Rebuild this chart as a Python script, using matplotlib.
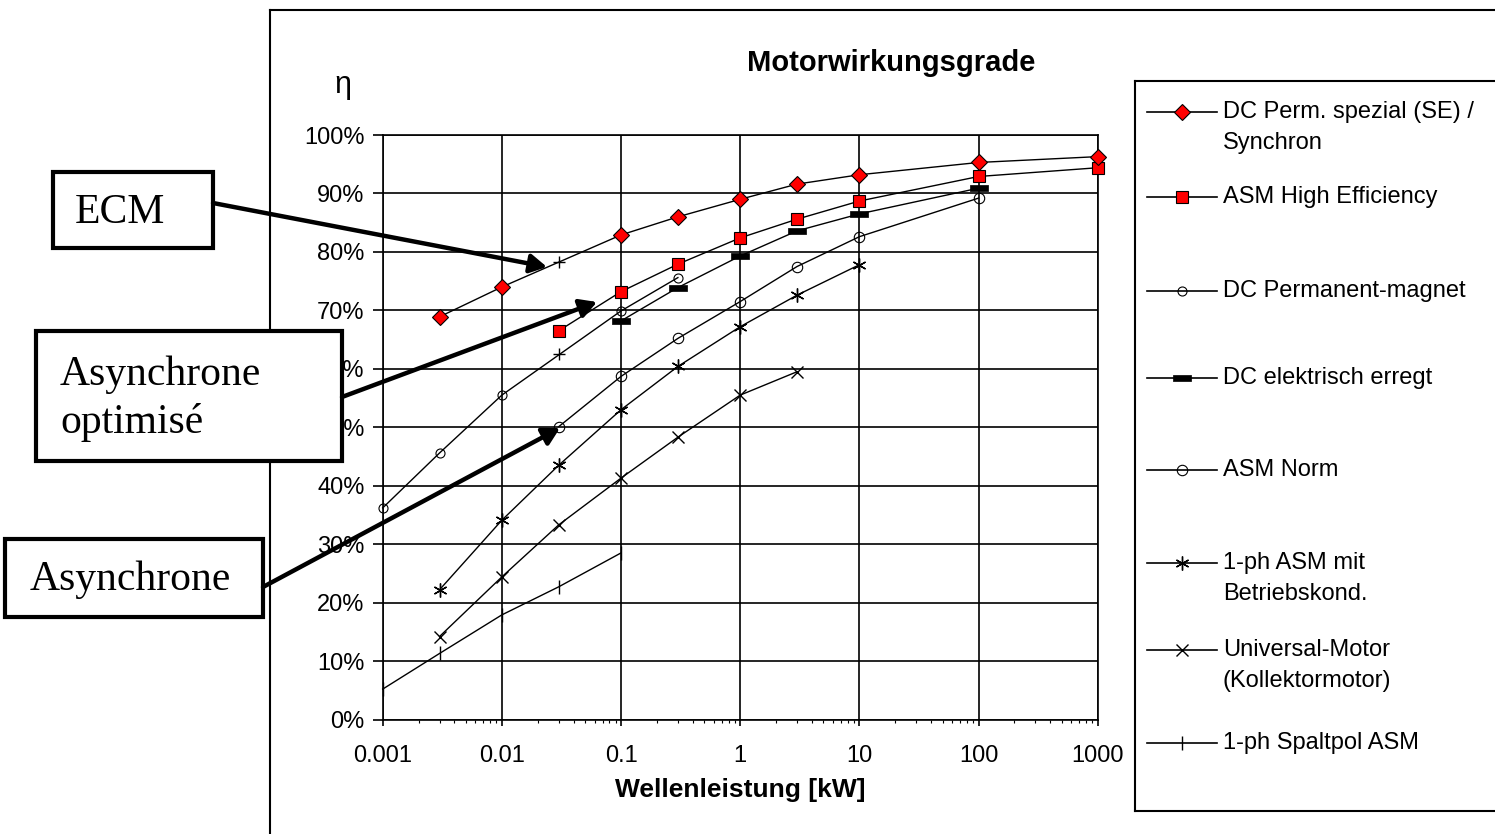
import matplotlib
matplotlib.use("Agg")
import matplotlib.pyplot as plt
from matplotlib.lines import Line2D
from matplotlib.patches import Rectangle, FancyArrowPatch
from matplotlib.ticker import FuncFormatter, LogLocator, NullFormatter

# --- data (efficiency in %, power in kW) ---
se_x = [0.003, 0.01, 0.1, 0.3, 1, 3, 10, 100, 1000]
se_y = [68.9, 74.0, 82.9, 86.0, 89.0, 91.6, 93.2, 95.3, 96.3]

he_x = [0.03, 0.1, 0.3, 1, 3, 10, 100, 1000]
he_y = [66.5, 73.2, 77.9, 82.4, 85.6, 88.7, 92.9, 94.4]

pm_x = [0.001, 0.003, 0.01, 0.1, 0.3]
pm_y = [36.2, 45.6, 55.5, 69.9, 75.6]

el_x = [0.1, 0.3, 1, 3, 10, 100]
el_y = [68.2, 73.9, 79.3, 83.6, 86.5, 90.9]

norm_x = [0.03, 0.1, 0.3, 1, 3, 10, 100]
norm_y = [50.1, 58.7, 65.2, 71.5, 77.5, 82.6, 89.2]

bk_x = [0.003, 0.01, 0.03, 0.1, 0.3, 1, 3, 10]
bk_y = [22.2, 34.1, 43.5, 53.0, 60.4, 67.2, 72.6, 77.8]

um_x = [0.003, 0.01, 0.03, 0.1, 0.3, 1, 3]
um_y = [14.2, 24.4, 33.3, 41.3, 48.3, 55.5, 59.5]

sp_x = [0.001, 0.003, 0.01, 0.03, 0.1]
sp_y = [5.2, 11.3, 17.9, 22.7, 28.5]

# the two small "+" marks the arrows point at
mark_x = [0.03, 0.03]
mark_y = [78.3, 62.6]

labels = ["DC Perm. spezial (SE) /\nSynchron", "ASM High Efficiency",
          "DC Permanent-magnet", "DC elektrisch erregt", "ASM Norm",
          "1-ph ASM mit\nBetriebskond.", "Universal-Motor\n(Kollektormotor)",
          "1-ph Spaltpol ASM"]
x_ticks = [0.001, 0.01, 0.1, 1, 10, 100, 1000]
x_ticklabels = ["0.001", "0.01", "0.1", "1", "10", "100", "1000"]
y_ticks = [0, 10, 20, 30, 40, 50, 60, 70, 80, 90, 100]

W, H = 1495, 834
plt.rcParams['font.family'] = ['Liberation Sans', 'DejaVu Sans']


def fx(x):
    return x / W


def fy(y):
    return 1 - y / H


bar = [(-1, -0.38), (1, -0.38), (1, 0.38), (-1, 0.38), (-1, -0.38)]
styles = [
    dict(marker='D', ms=8, mfc='red', mec='black', mew=0.8),
    dict(marker='s', ms=8.5, mfc='red', mec='black', mew=0.8),
    dict(marker='o', ms=6.5, mfc='none', mec='black', mew=0.8),
    dict(marker=bar, ms=13, mfc='black', mec='black', mew=0.5),
    dict(marker='o', ms=7.5, mfc='none', mec='black', mew=0.8),
    dict(marker=(6, 2, 0), ms=10, mec='black', mew=1.0),
    dict(marker='x', ms=8, mec='black', mew=1.0),
    dict(marker='|', ms=10, mec='black', mew=1.0),
]
series = [(se_x, se_y), (he_x, he_y), (pm_x, pm_y), (el_x, el_y),
          (norm_x, norm_y), (bk_x, bk_y), (um_x, um_y), (sp_x, sp_y)]

fig = plt.figure(figsize=(W / 100, H / 100), dpi=100)
ax = fig.add_axes([fx(382.7), fy(719.5), fx(1097.7) - fx(382.7), fy(135) - fy(719.5)])

# draw lower series first so the red markers sit on top
for (xs, ys), st in reversed(list(zip(series, styles))):
    ax.plot(xs, ys, color='black', lw=1.0, zorder=3, clip_on=False, **st)
ax.plot(mark_x, mark_y, ls='none', marker='+', ms=9, mew=1.0, color='black', zorder=3)

ax.set_xscale('log')
ax.set_xlim(0.001, 1000)
ax.set_ylim(0, 100)
ax.set_xticks(x_ticks)
ax.set_xticklabels(x_ticklabels)
ax.xaxis.set_minor_locator(LogLocator(base=10, subs=range(2, 10)))
ax.xaxis.set_minor_formatter(NullFormatter())
ax.set_yticks(y_ticks)
ax.yaxis.set_major_formatter(FuncFormatter(lambda v, p: f"{v:.0f}%"))
ax.grid(True, which='major', color='black', lw=1.2)
for s in ax.spines.values():
    s.set_linewidth(1.2)
ax.tick_params(axis='y', direction='out', length=7, width=1.2, pad=6, labelsize=17)
ax.tick_params(axis='x', which='major', direction='out', length=4, width=1.2, pad=14, labelsize=17)
ax.tick_params(axis='x', which='minor', direction='out', length=2.5, width=0.8)
ax.set_xlabel("Wellenleistung [kW]", fontsize=19, fontweight='bold', labelpad=8)

# outer chart frame
fig.add_artist(Line2D([fx(270), fx(270)], [fy(10), 0], color='black', lw=1.5))
fig.add_artist(Line2D([fx(270), 1], [fy(10), fy(10)], color='black', lw=1.5))

fig.text(fx(891), fy(63), "Motorwirkungsgrade", fontsize=21, fontweight='bold',
         ha='center', va='center')
fig.text(fx(343), fy(85), "η", fontsize=22, ha='center', va='center')

# legend box drawn by hand (Excel style: marker on first label line)
fig.add_artist(Line2D([fx(1135), fx(1135)], [fy(81), fy(811)], color='black', lw=1.5))
fig.add_artist(Line2D([fx(1135), 1], [fy(81), fy(81)], color='black', lw=1.5))
fig.add_artist(Line2D([fx(1135), 1], [fy(811), fy(811)], color='black', lw=1.5))
leg_y = [112, 197, 291, 378, 470, 563, 650, 743]
for ly, lab, st in zip(leg_y, labels, styles):
    fig.add_artist(Line2D([fx(1147), fx(1217)], [fy(ly), fy(ly)], color='black', lw=1.2))
    fig.add_artist(Line2D([fx(1182)], [fy(ly)], ls='none', color='black', **st))
    for k, part in enumerate(lab.split("\n")):
        fig.text(fx(1223), fy(ly + 31 * k), part, fontsize=17, ha='left', va='center')

# annotation boxes with arrows
boxes = [
    ((53, 172, 213, 248), ["ECM"], 75, [213]),
    ((36, 331, 342, 461), ["Asynchrone", "optimisé"], 60, [375, 423]),
    ((5, 539, 263, 617), ["Asynchrone"], 30, [580]),
]
for (x0, y0, x1, y1), lines, tx, tys in boxes:
    fig.add_artist(Rectangle((fx(x0), fy(y1)), fx(x1) - fx(x0), fy(y0) - fy(y1),
                             transform=fig.transFigure, fill=True, fc='white',
                             ec='black', lw=3, zorder=5))
    for t, ty in zip(lines, tys):
        fig.text(fx(tx), fy(ty), t, fontsize=30, family='Liberation Serif',
                 ha='left', va='center', zorder=6)

arrows = [((213, 203), (547, 267)), ((342, 397), (597, 302)), ((263, 587), (560, 428))]
for (ax0, ay0), (ax1, ay1) in arrows:
    fig.add_artist(FancyArrowPatch((fx(ax0), fy(ay0)), (fx(ax1), fy(ay1)),
                                   transform=fig.transFigure,
                                   arrowstyle='-|>,head_length=0.5,head_width=0.28',
                                   mutation_scale=20, lw=3.2, color='black',
                                   shrinkA=0, shrinkB=0, zorder=7))

fig.savefig("out.png", dpi=100)
